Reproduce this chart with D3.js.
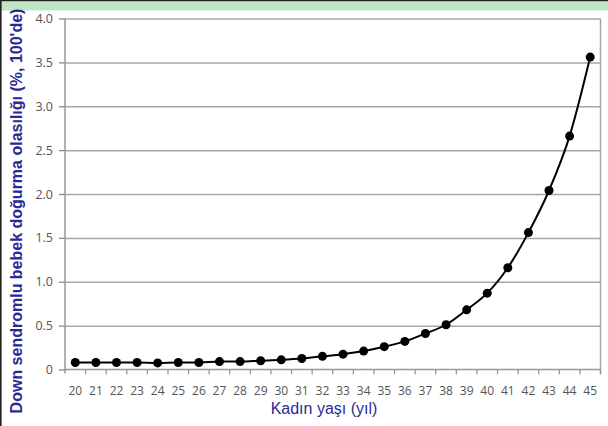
<!DOCTYPE html>
<html>
<head>
<meta charset="utf-8">
<script src="https://cdn.jsdelivr.net/npm/d3@7"></script>
<style>
  html, body { margin: 0; padding: 0; background: #fff; }
  svg { display: block; }
</style>
</head>
<body>
<svg id="chart" width="608" height="426"></svg>
<script>
// ---- data ----
const ages = ["20","21","22","23","24","25","26","27","28","29","30","31","32","33","34","35","36","37","38","39","40","41","42","43","44","45"];
const risk = [0.08,0.08,0.08,0.08,0.075,0.08,0.08,0.09,0.09,0.10,0.11,0.125,0.15,0.175,0.21,0.26,0.32,0.41,0.51,0.68,0.87,1.16,1.56,2.04,2.66,3.56];
const yTicks = [0,0.5,1.0,1.5,2.0,2.5,3.0,3.5,4.0];
const xTitle = "Kadın yaşı (yıl)";
const yTitle = "Down sendromlu bebek doğurma olasılığı (%, 100'de)";

(function () {
const svg = d3.select("#chart");
const W = 608, H = 426;
const pL = 65, pR = 600.5, pT = 18.5, pB = 369.5;
const navy = "#2a2a96";
const gridCol = "#a6a6a6";

// frame decoration
svg.append("rect").attr("x",0).attr("y",0).attr("width",W).attr("height",H).attr("fill","#fff");
svg.append("rect").attr("x",0).attr("y",1).attr("width",W).attr("height",9.5).attr("fill","#c1e6c5");
svg.append("rect").attr("x",0).attr("y",0).attr("width",W).attr("height",1.2).attr("fill","#222");
svg.append("rect").attr("x",0).attr("y",0).attr("width",1.6).attr("height",H).attr("fill","#222");

const x = d3.scaleBand().domain(ages).range([pL, pR]).padding(0);
const y = d3.scaleLinear().domain([0,4]).range([pB, pT]);

// gridlines
svg.append("g")
  .attr("transform", `translate(${pL},0)`)
  .call(d3.axisLeft(y).tickValues(yTicks.slice(1)).tickSize(-(pR-pL)).tickFormat(""))
  .call(g => g.select(".domain").remove())
  .call(g => g.selectAll("line").attr("stroke", gridCol).attr("stroke-width", 1.5));

// right frame line
svg.append("line").attr("x1", pR).attr("x2", pR).attr("y1", pT).attr("y2", pB + 4)
  .attr("stroke", gridCol).attr("stroke-width", 1.5);

// y axis
svg.append("g")
  .attr("transform", `translate(${pL},0)`)
  .call(d3.axisLeft(y).tickValues(yTicks).tickSize(6).tickPadding(6)
        .tickFormat(d => d === 0 ? "0" : d3.format(".1f")(d)))
  .call(g => g.select(".domain").remove())
  .call(g => g.selectAll("line").attr("stroke", "#888").attr("stroke-width", 1.3))
  .call(g => g.selectAll("text").attr("fill", "#555").attr("font-family", "'Open Sans', sans-serif").attr("font-size", 12.5));

svg.append("line").attr("x1", pL).attr("x2", pL).attr("y1", pT).attr("y2", pB + 4)
  .attr("stroke", "#999").attr("stroke-width", 1.5);

// x axis
svg.append("line").attr("x1", pL).attr("x2", pR).attr("y1", pB).attr("y2", pB)
  .attr("stroke", "#999").attr("stroke-width", 1.5);
svg.append("g").selectAll("line")
  .data(ages.slice(1).concat(["end"]))
  .join("line")
  .attr("x1", d => d === "end" ? pR : x(d))
  .attr("x2", d => d === "end" ? pR : x(d))
  .attr("y1", pB).attr("y2", pB + 5)
  .attr("stroke", "#999").attr("stroke-width", 1.3);

svg.append("g")
  .attr("transform", `translate(0,${pB})`)
  .call(d3.axisBottom(x).tickSize(0).tickPadding(17))
  .call(g => g.select(".domain").remove())
  .call(g => g.selectAll("text").attr("fill", "#555").attr("font-family", "'Open Sans', sans-serif").attr("font-size", 12));

// line + points
const pts = ages.map((a, i) => ({a, v: risk[i]}));
const line = d3.line()
  .x(d => x(d.a) + x.bandwidth()/2)
  .y(d => y(d.v))
  .curve(d3.curveMonotoneX);
svg.append("path").datum(pts).attr("d", line)
  .attr("fill", "none").attr("stroke", "#000").attr("stroke-width", 2);
svg.append("g").selectAll("circle").data(pts).join("circle")
  .attr("cx", d => x(d.a) + x.bandwidth()/2)
  .attr("cy", d => y(d.v))
  .attr("r", 4.5).attr("fill", "#000");

// titles
svg.append("text")
  .attr("x", 324).attr("y", 414)
  .attr("text-anchor", "middle")
  .attr("font-family", "'Liberation Sans', Arial, sans-serif")
  .attr("font-size", 16)
  .attr("fill", navy)
  .text(xTitle);

svg.append("text")
  .attr("transform", "translate(22,211) rotate(-90)")
  .attr("text-anchor", "middle")
  .attr("font-family", "'Liberation Sans', Arial, sans-serif")
  .attr("font-weight", "bold")
  .attr("font-size", 16)
  .attr("fill", navy)
  .text(yTitle);
})();
</script>
</body>
</html>
